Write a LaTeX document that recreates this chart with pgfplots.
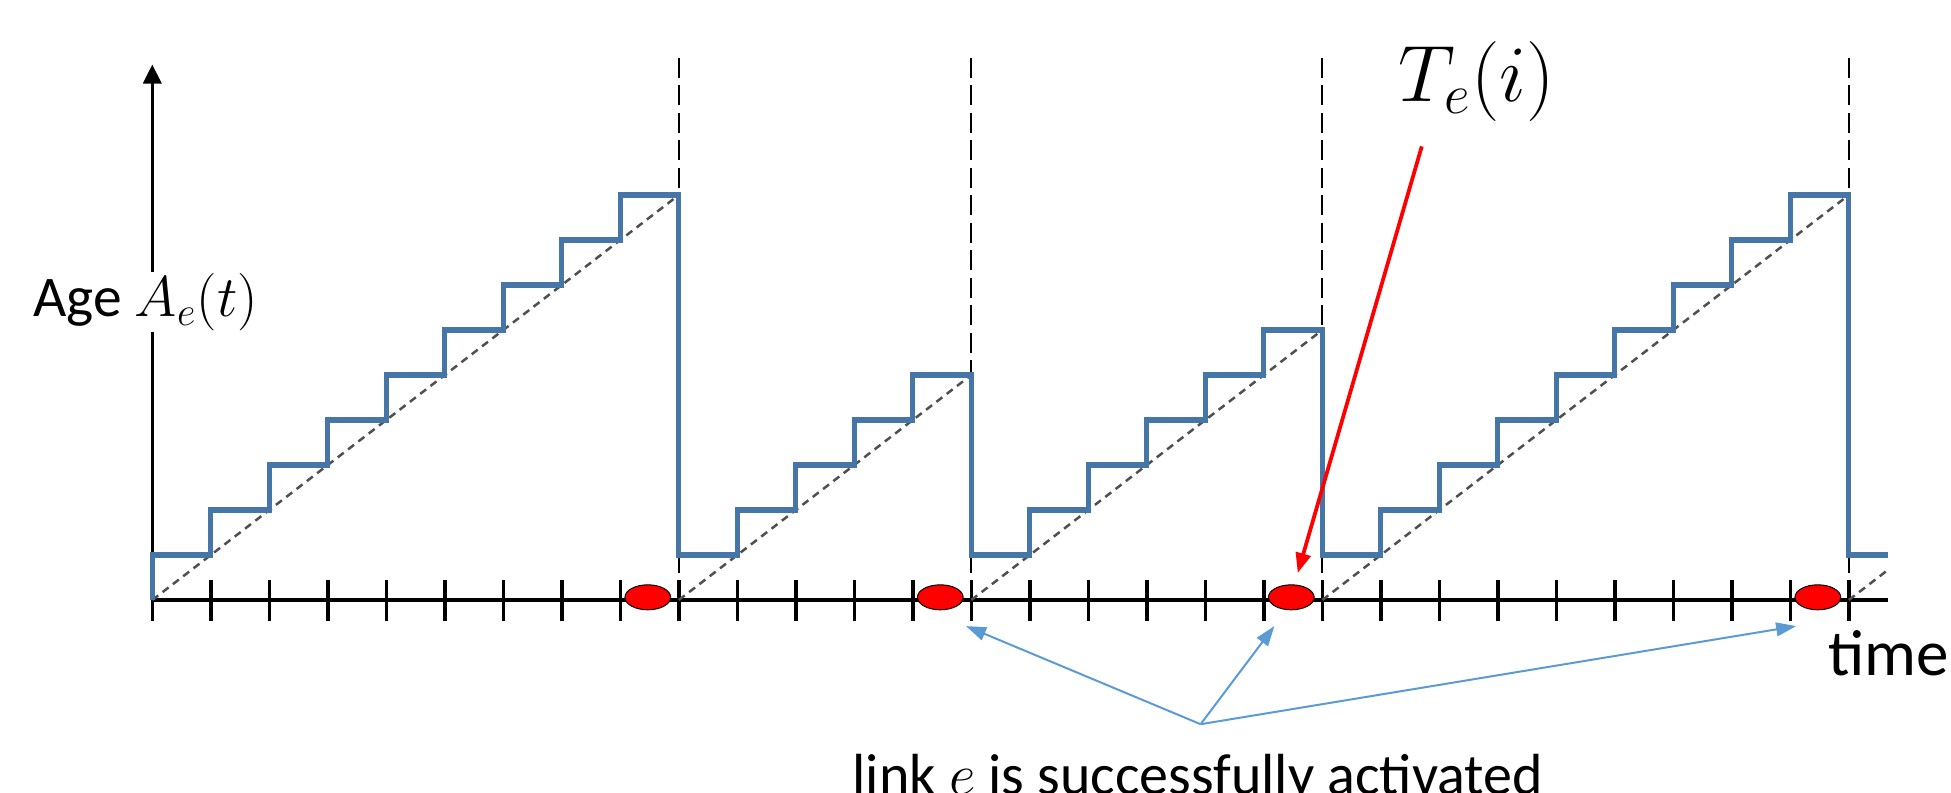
\RequirePackage{fix-cm}
\documentclass[border=0pt]{standalone}
\usepackage[no-math]{fontspec}
\setmainfont{Carlito}
\usepackage{pgfplots}
\pgfplotsset{compat=1.18}
\usetikzlibrary{arrows.meta}
\definecolor{stepblue}{RGB}{70,118,168}
\definecolor{arrowblue}{RGB}{91,155,213}
\definecolor{diaggray}{RGB}{80,80,80}
\begin{document}
\begin{tikzpicture}
\path[use as bounding box] (0,0) rectangle (780.4pt,316.8pt);
\begin{axis}[
  at={(60.92pt,76.8pt)}, anchor=origin,
  x=23.4pt, y=18pt,
  xmin=0, xmax=29.67, ymin=0, ymax=11.9,
  axis x line=bottom, axis y line=left,
  axis line style={line width=1.4pt, black},
  x axis line style={-},
  y axis line style={-{Triangle[width=7.2pt,length=7.6pt]}},
  xtick={0,...,29}, ytick=\empty, xticklabels={},
  tick align=center, major tick length=16.4pt,
  x tick style={line width=1.4pt, black},
  clip=false,
]
% vertical dashed reset markers
\addplot[black, line width=0.8pt, dash pattern=on 8pt off 3pt] coordinates {(9,0) (9,12.2)};
\addplot[black, line width=0.8pt, dash pattern=on 8pt off 3pt] coordinates {(14,0) (14,12.2)};
\addplot[black, line width=0.8pt, dash pattern=on 8pt off 3pt] coordinates {(20,0) (20,12.2)};
\addplot[black, line width=0.8pt, dash pattern=on 8pt off 3pt] coordinates {(29,0) (29,12.2)};
% diagonal dashed lines
\addplot[diaggray, line width=1pt, dash pattern=on 3pt off 2.2pt] coordinates {(0,0) (9,9)};
\addplot[diaggray, line width=1pt, dash pattern=on 3pt off 2.2pt] coordinates {(9,0) (14,5)};
\addplot[diaggray, line width=1pt, dash pattern=on 3pt off 2.2pt] coordinates {(14,0) (20,6)};
\addplot[diaggray, line width=1pt, dash pattern=on 3pt off 2.2pt] coordinates {(20,0) (29,9)};
\addplot[diaggray, line width=1pt, dash pattern=on 3pt off 2.2pt] coordinates {(29,0) (29.67,0.67)};
% age staircase
\addplot[stepblue, line width=2.1pt, const plot, line join=miter] coordinates {
(0,0) (0,1) (1,2) (2,3) (3,4) (4,5) (5,6) (6,7) (7,8) (8,9)
(9,1) (10,2) (11,3) (12,4) (13,5)
(14,1) (15,2) (16,3) (17,4) (18,5) (19,6)
(20,1) (21,2) (22,3) (23,4) (24,5) (25,6) (26,7) (27,8) (28,9)
(29,1) (29.67,1)};
% successful activations
\addplot[only marks, mark=*, mark size=5pt, mark options={xscale=1.83, fill=red, draw=none}] coordinates {
(8.47,0.06) (13.47,0.06) (19.47,0.06) (28.47,0.06)};
% annotations
\draw[red, line width=1.5pt, -{Triangle[width=6pt,length=8pt]}] (axis cs:21.70,10.08) -- (axis cs:19.58,0.6);
\draw[arrowblue, line width=0.8pt, -{Triangle[width=5.5pt,length=8pt]}] (axis cs:17.92,-2.76) -- (axis cs:13.91,-0.58);
\draw[arrowblue, line width=0.8pt, -{Triangle[width=5.5pt,length=8pt]}] (axis cs:17.92,-2.76) -- (axis cs:19.18,-0.58);
\draw[arrowblue, line width=0.8pt, -{Triangle[width=5.5pt,length=8pt]}] (axis cs:17.92,-2.76) -- (axis cs:28.10,-0.58);
\node[anchor=base west, inner xsep=0pt, inner ysep=0.5pt, fill=white, font=\fontsize{23pt}{27pt}\selectfont] at (axis cs:-2.04,6.3) {Age $A_e(t)$};
\node[anchor=base west, inner sep=0pt, font=\fontsize{32pt}{38pt}\selectfont] at (axis cs:21.30,11.07) {$T_e(i)$};
\node[anchor=base west, inner sep=0pt, font=\fontsize{26pt}{30pt}\selectfont] at (axis cs:28.64,-1.67) {time};
\node[anchor=base west, inner sep=0pt, font=\fontsize{23.2pt}{27pt}\selectfont] at (axis cs:11.96,-4.33) {link $e$ is successfully activated};
\end{axis}
\end{tikzpicture}
\end{document}
